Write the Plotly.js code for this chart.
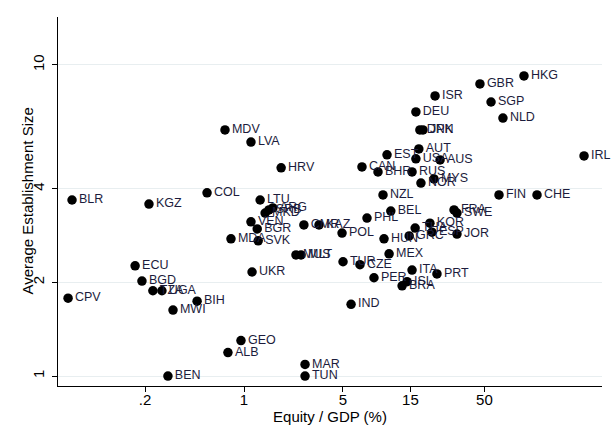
<!DOCTYPE html>
<html>
<head>
<meta charset="utf-8">
<script src="https://cdn.plot.ly/plotly-3.0.1.min.js"></script>
<style>
  html, body { margin: 0; padding: 0; background: #fff; }
  #chart { width: 616px; height: 434px; }
</style>
</head>
<body>
<div id="chart"></div>
<script>
// country codes, equity issuance / GDP (%), average establishment size
var codes = ['HKG', 'GBR', 'ISR', 'SGP', 'DEU', 'NLD', 'DNK', 'JPN', 'MDV', 'LVA',
  'AUT', 'IRL', 'EST', 'USA', 'AUS', 'CAN', 'HRV', 'BHR', 'RUS', 'MYS',
  'NOR', 'COL', 'NZL', 'FIN', 'CHE', 'BLR', 'LTU', 'KGZ', 'ARG', 'SRB',
  'MKD', 'BEL', 'FRA', 'SWE', 'PHL', 'VEN', 'CMR', 'KAZ', 'KOR', 'THA',
  'ESP', 'BGR', 'POL', 'JOR', 'GRC', 'HUN', 'MDA', 'SVK', 'MEX', 'MUS',
  'MLT', 'TUR', 'CZE', 'ECU', 'UKR', 'ITA', 'PRT', 'PER', 'BGD', 'ISL',
  'BRA', 'TZA', 'UGA', 'CPV', 'BIH', 'IND', 'MWI', 'GEO', 'ALB', 'MAR',
  'TUN', 'BEN'];

var equityGdp = [95.2, 46.5, 22.4, 55.7, 16.4, 67.6, 17.5, 18.4, 0.734, 1.12,
  17.2, 253, 10.25, 16.4, 24.3, 6.82, 1.83, 8.85, 15.4, 22.0,
  17.8, 0.548, 9.60, 63.4, 117.7, 0.0609, 1.30, 0.213, 1.60, 1.50,
  1.41, 10.9, 30.5, 32.0, 7.40, 1.12, 2.65, 3.39, 20.6, 16.2,
  21.3, 1.24, 4.93, 32.0, 14.7, 9.76, 0.809, 1.26, 10.6, 2.33,
  2.53, 5.01, 6.60, 0.170, 1.14, 15.4, 23.1, 8.29, 0.190, 14.2,
  13.1, 0.227, 0.263, 0.0571, 0.466, 5.71, 0.315, 0.952, 0.770, 2.70,
  2.70, 0.290];

var estSize = [9.22, 8.69, 7.95, 7.60, 7.06, 6.75, 6.18, 6.18, 6.18, 5.65,
  5.37, 5.10, 5.14, 4.99, 4.95, 4.70, 4.67, 4.53, 4.53, 4.30,
  4.17, 3.88, 3.82, 3.82, 3.82, 3.68, 3.68, 3.57, 3.47, 3.42,
  3.34, 3.39, 3.42, 3.34, 3.22, 3.13, 3.06, 3.06, 3.10, 2.99,
  2.90, 2.97, 2.88, 2.86, 2.82, 2.76, 2.76, 2.72, 2.47, 2.45,
  2.45, 2.33, 2.28, 2.26, 2.16, 2.19, 2.13, 2.07, 2.02, 2.01,
  1.95, 1.88, 1.88, 1.78, 1.74, 1.70, 1.63, 1.30, 1.19, 1.09,
  1.00, 1.00];

var xTicks = [0.2, 1, 5, 15, 50];
var xTickText = ['.2', '1', '5', '15', '50'];
var yTicks = [1, 2, 4, 10];
var yTickText = ['1', '2', '4', '10'];

var trace = {
  x: equityGdp,
  y: estSize,
  text: codes,
  type: 'scatter',
  mode: 'markers+text',
  textposition: 'middle right',
  cliponaxis: false,
  textfont: { family: 'Liberation Sans, Arial, sans-serif', size: 12.5, color: '#1c1c3c' },
  marker: { color: '#000', size: 9.5 },
  hoverinfo: 'none'
};

var axisFont = { family: 'Liberation Sans, Arial, sans-serif', size: 15, color: '#000' };

var layout = {
  width: 616,
  height: 434,
  margin: { l: 58, r: 14, t: 17, b: 48 },
  paper_bgcolor: '#fff',
  plot_bgcolor: '#fff',
  showlegend: false,
  xaxis: {
    type: 'log',
    range: [-1.3145, 2.530],
    tickvals: xTicks,
    ticktext: xTickText,
    ticks: 'outside',
    ticklen: 5,
    tickcolor: '#000',
    ticklabelstandoff: -5,
    showgrid: false,
    zeroline: false,
    showline: true,
    linecolor: '#000',
    linewidth: 1,
    tickfont: axisFont,
    title: { text: 'Equity / GDP (%)', font: axisFont, standoff: 0 }
  },
  yaxis: {
    type: 'log',
    range: [-0.032, 1.154],
    tickvals: yTicks,
    ticktext: yTickText,
    tickangle: -90,
    ticks: 'outside',
    ticklen: 5,
    tickcolor: '#000',
    ticklabelstandoff: 2,
    showgrid: true,
    gridcolor: '#e8eef0',
    zeroline: false,
    showline: true,
    linecolor: '#000',
    linewidth: 1,
    tickfont: axisFont
  },
  annotations: [{
    text: 'Average Establishment Size',
    textangle: -90,
    font: axisFont,
    showarrow: false,
    xref: 'paper',
    yref: 'paper',
    x: -31 / 544,
    y: 0.5,
    xanchor: 'center',
    yanchor: 'middle'
  }]
};

Plotly.newPlot('chart', [trace], layout, { staticPlot: true, displayModeBar: false });
</script>
</body>
</html>
